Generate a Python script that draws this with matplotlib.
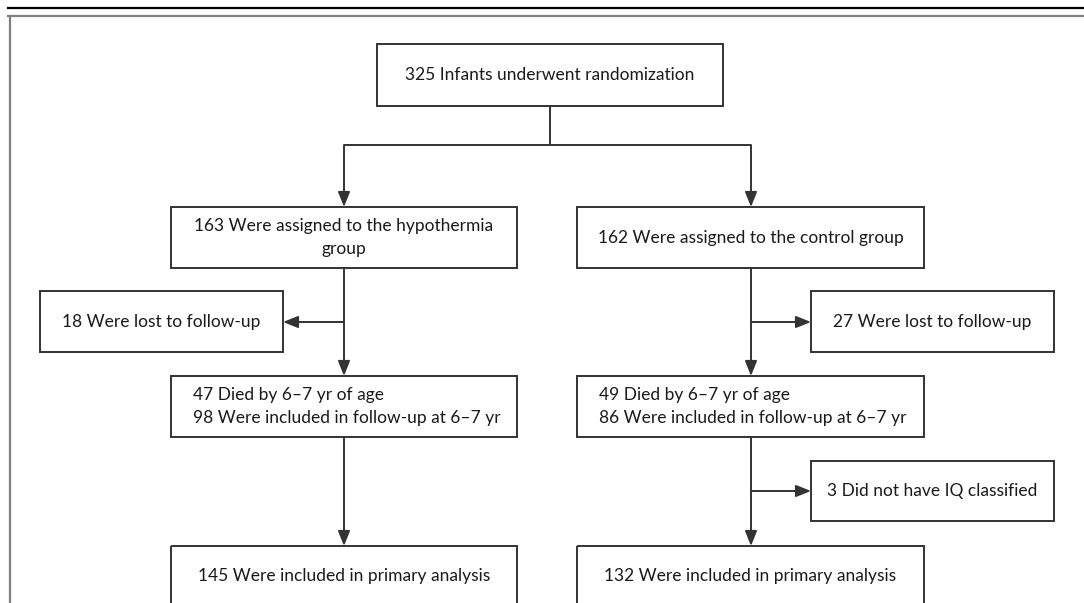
import matplotlib.pyplot as plt
from matplotlib.patches import Rectangle

# flowchart texts
top_text = '325 Infants underwent randomization'
group_text = ['163 Were assigned to the hypothermia\ngroup',
              '162 Were assigned to the control group']
lost_text = ['18 Were lost to follow-up', '27 Were lost to follow-up']
followup_text = ['47 Died by 6\u20137 yr of age\n98 Were included in follow-up at 6\u20137 yr',
                 '49 Died by 6\u20137 yr of age\n86 Were included in follow-up at 6\u20137 yr']
iq_text = '3 Did not have IQ classified'
primary_text = ['145 Were included in primary analysis',
                '132 Were included in primary analysis']

W, H = 1084, 603
EDGE = '#333333'
TXT = '#1a1a1a'
LW = 1.4
FS = 12.5
LS = 1.6

plt.rcParams['font.family'] = ['Lato', 'DejaVu Sans']

fig = plt.figure(figsize=(W / 100, H / 100), dpi=100)
ax = fig.add_axes([0, 0, 1, 1])
ax.set_xlim(0, W)
ax.set_ylim(H, 0)
ax.axis('off')


def box(x0, y0, x1, y1, text, align='center', pad=22):
    ax.add_patch(Rectangle((x0, y0), x1 - x0, y1 - y0, fill=False,
                           edgecolor=EDGE, lw=LW, zorder=2))
    ym = (y0 + y1) / 2
    if align == 'center':
        ax.text((x0 + x1) / 2, ym, text, ha='center', va='center',
                fontsize=FS, color=TXT, linespacing=LS)
    else:
        ax.text(x0 + pad, ym, text, ha='left', va='center',
                fontsize=FS, color=TXT, linespacing=LS)


def line(xs, ys):
    ax.plot(xs, ys, color=EDGE, lw=LW, solid_capstyle='butt', zorder=1)


def arrow(x0, y0, x1, y1):
    ax.annotate('', xy=(x1, y1), xytext=(x0, y0),
                arrowprops=dict(arrowstyle='-|>,head_length=0.5,head_width=0.2',
                                color=EDGE, lw=LW,
                                mutation_scale=18, shrinkA=0, shrinkB=0))


# outer frame
ax.plot([8, W], [8, 8], color='black', lw=1.6)
ax.plot([8, W], [15.5, 15.5], color='#808080', lw=1.6)
ax.plot([9.5, 9.5], [15.5, H], color='#808080', lw=1.6)

cx = [344, 751]

# top box and split
box(377, 44, 723, 106, top_text)
line([550, 550], [106, 145])
line([cx[0], cx[1]], [145, 145])
for x in cx:
    arrow(x, 145, x, 207)

# group boxes
box(171, 207, 517, 268, group_text[0])
box(577, 207, 924, 268, group_text[1])

# lost to follow-up
for x in cx:
    arrow(x, 268, x, 376)
arrow(cx[0], 322, 283, 322)
arrow(cx[1], 322, 811, 322)
box(40, 291, 283, 352, lost_text[0])
box(811, 291, 1054, 352, lost_text[1])

# follow-up boxes
box(171, 376, 517, 437, followup_text[0], align='left')
box(577, 376, 924, 437, followup_text[1], align='left')

# IQ and primary analysis
for x in cx:
    arrow(x, 437, x, 546)
arrow(cx[1], 491, 811, 491)
box(811, 461, 1054, 521, iq_text)
box(171, 546, 517, 606, primary_text[0])
box(577, 546, 924, 606, primary_text[1])

fig.savefig('out.png', dpi=100)
